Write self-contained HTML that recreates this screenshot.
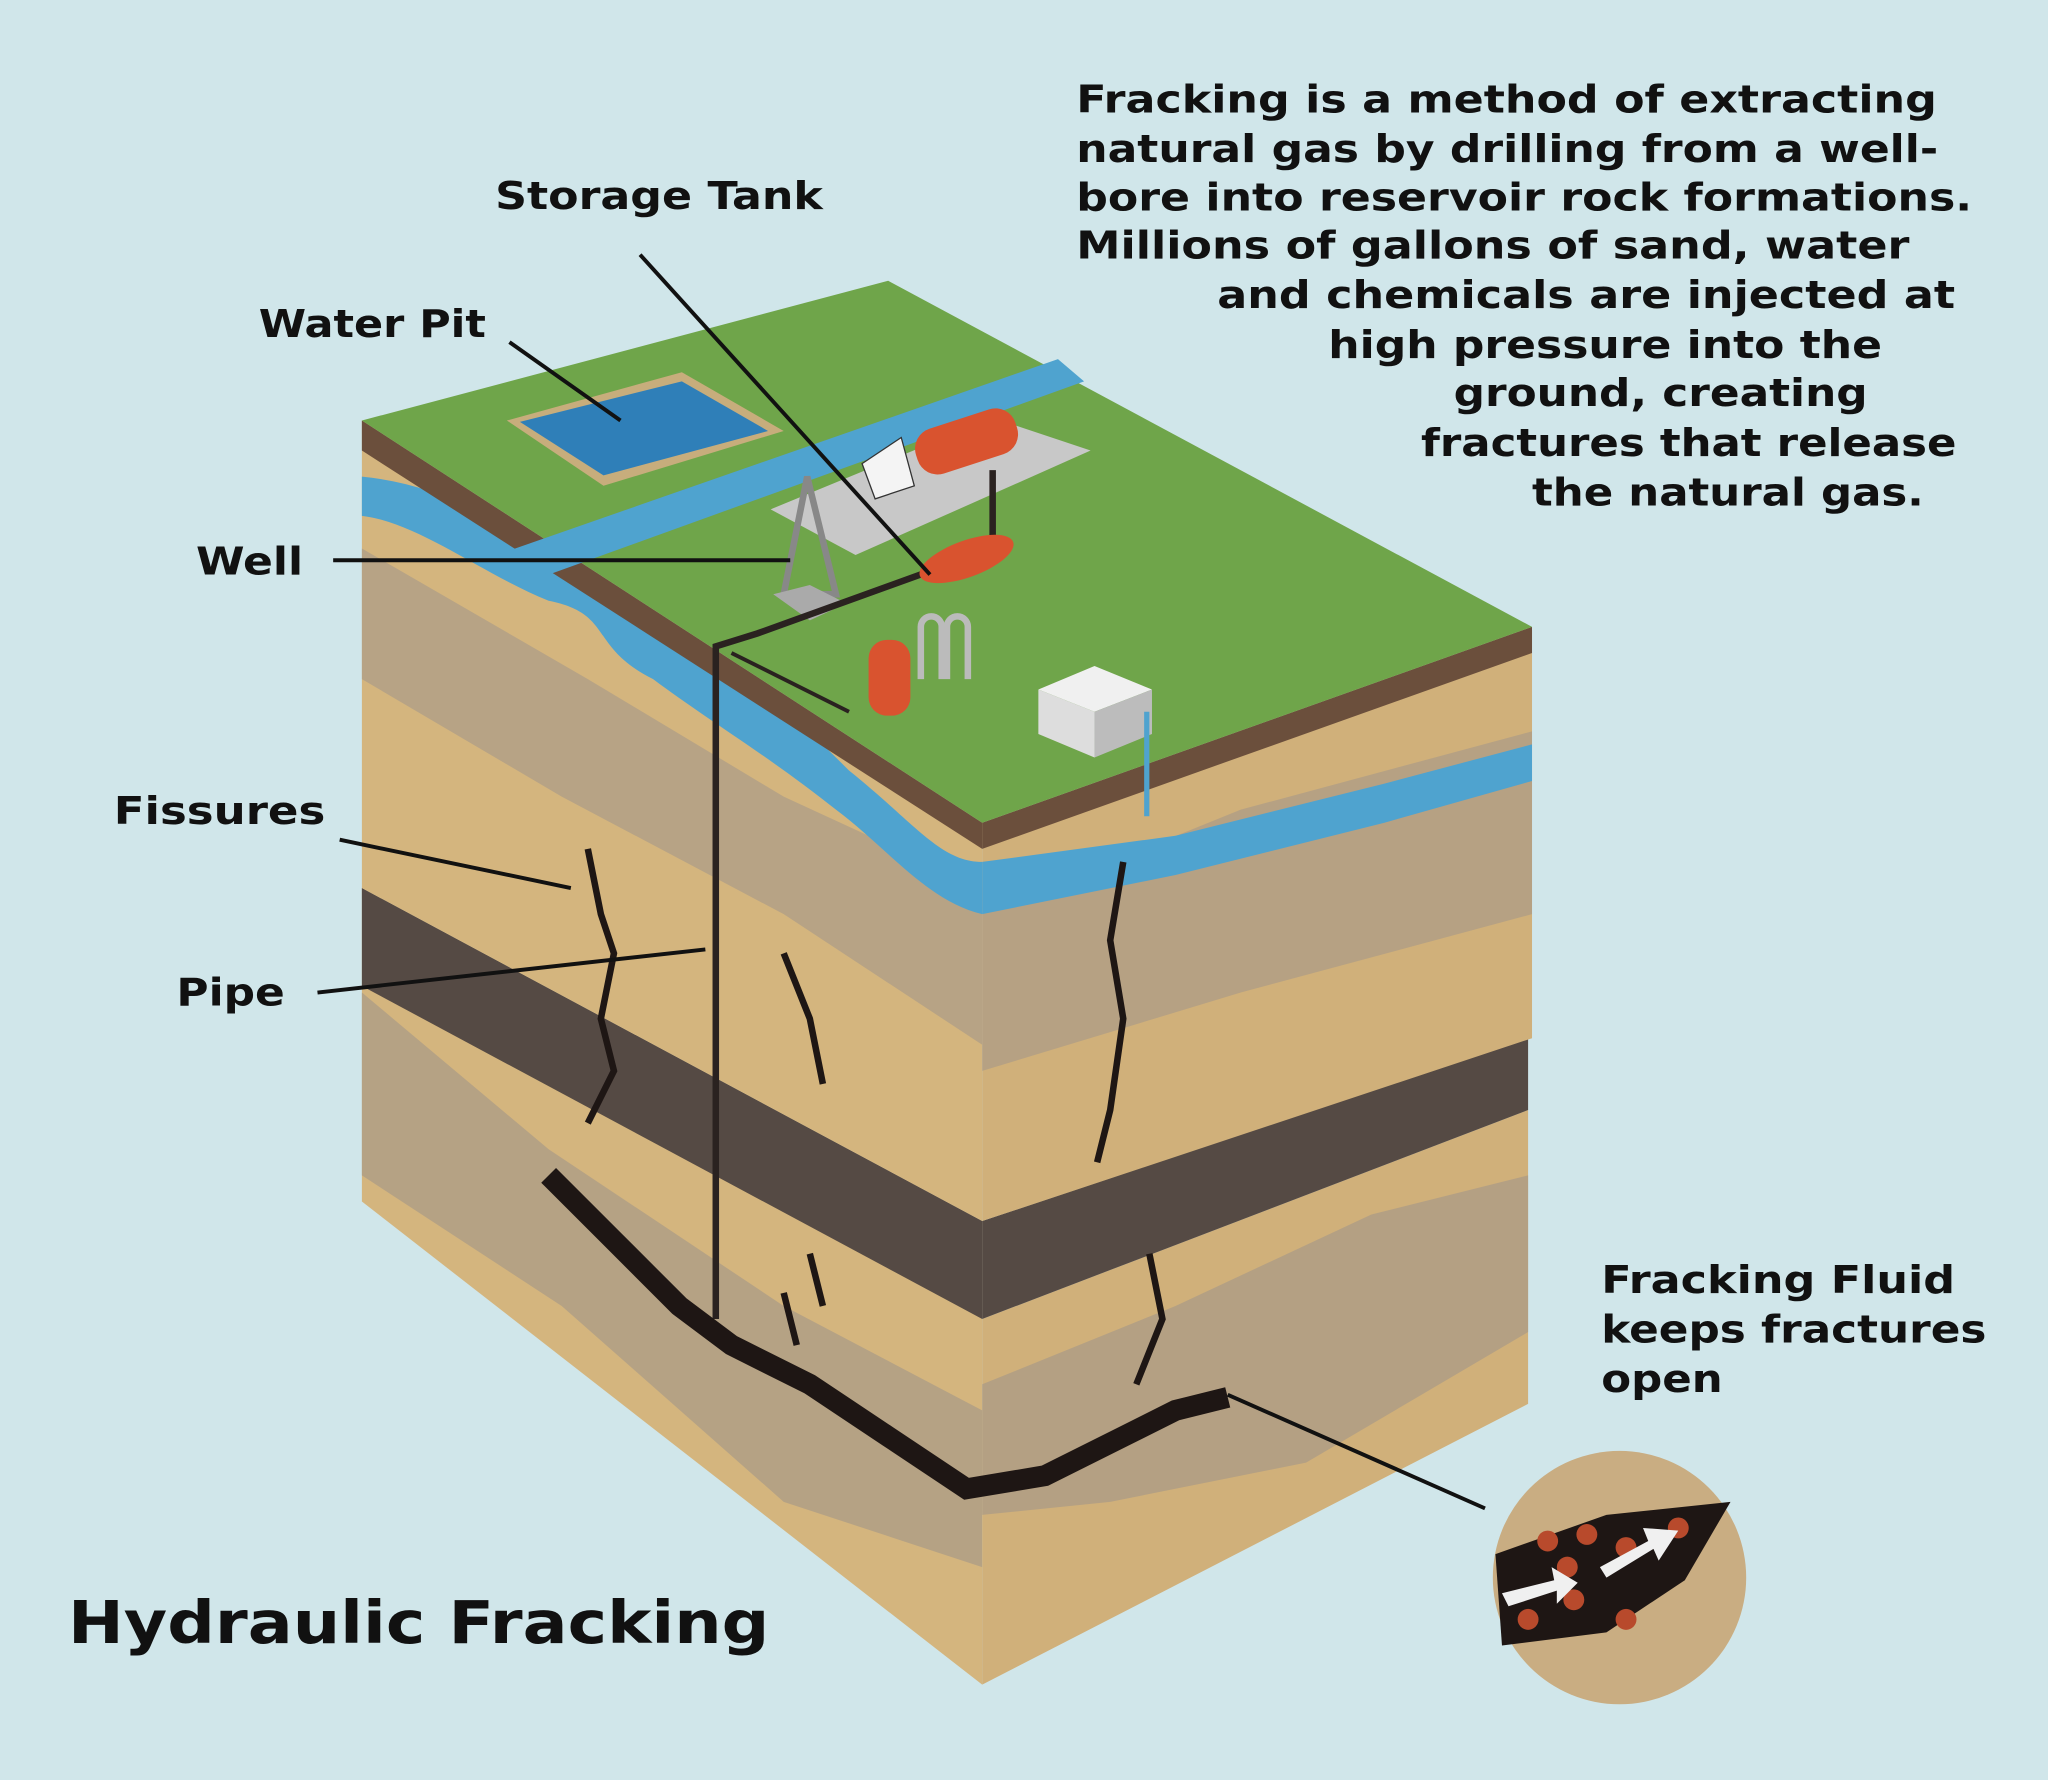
<!DOCTYPE html>
<html><head><meta charset="utf-8"><style>
html,body{margin:0;padding:0;background:#d0e6ea;}
svg{display:block;}
text{font-family:"DejaVu Sans","Liberation Sans",sans-serif;font-weight:bold;fill:#111;}
</style></head><body>
<svg width="2048" height="1780" viewBox="0 0 1568 1363" xmlns="http://www.w3.org/2000/svg">
<rect width="1568" height="1363" fill="#d0e6ea"/>
<!-- lower block -->
<polygon points="277,680 752,935 752,1290 277,920" fill="#d4b57e"/>
<polygon points="277,760 420,880 600,1000 752,1080 752,1200 600,1150 430,1000 277,900" fill="#a89a88" opacity="0.7"/>
<polygon points="752,1010 1170,850 1170,1075 752,1290" fill="#d0b07a"/>
<polygon points="752,1060 900,1000 1050,930 1170,900 1170,1020 1000,1120 850,1150 752,1160" fill="#a89a88" opacity="0.7"/>
<polygon points="277,680 752,935 752,1010 277,755" fill="#554a44"/>
<polygon points="752,935 1170,795 1170,850 752,1010" fill="#554a44"/>
<!-- upper block -->
<polygon points="277,322 752,630 752,935 277,680" fill="#d4b57e"/>
<polygon points="277,420 450,520 600,610 752,680 752,800 600,700 430,610 277,520" fill="#a89a88" opacity="0.65"/>
<polygon points="752,630 1173,480 1173,795 752,935" fill="#d0b07a"/>
<polygon points="752,700 950,620 1173,560 1173,700 950,760 752,820" fill="#a89a88" opacity="0.65"/>
<!-- river on faces -->
<path d="M277,365 C330,370 380,395 420,420 C470,440 440,460 500,480 C560,500 600,540 650,590 C700,630 720,660 752,660 L752,700 C710,690 680,650 640,620 C590,580 540,550 500,520 C450,495 470,470 420,460 C370,440 320,400 277,395 Z" fill="#4fa3cf"/>
<polygon points="752,660 900,640 1060,600 1173,570 1173,598 1060,630 900,670 752,700" fill="#4fa3cf"/>
<!-- dirt edge -->
<polygon points="277,322 752,630 752,650 277,345" fill="#6b4f3c"/>
<polygon points="752,630 1173,480 1173,500 752,650" fill="#6b4f3c"/>
<!-- top green -->
<polygon points="277,322 680,215 1173,480 752,630" fill="#6fa54a"/>
<polygon points="380,425 810,275 830,292 420,440" fill="#4fa3cf"/>
<polygon points="388,322 522,285 600,330 462,372" fill="#c7ad7c"/>
<polygon points="398,323 522,292 588,330 462,364" fill="#2f7fb8"/>
<polygon points="590,390 760,320 835,345 655,425" fill="#c8c8c8"/>
<rect x="700" y="320" width="80" height="36" rx="16" fill="#d9532f" transform="rotate(-18 740 338)"/>
<polygon points="660,355 690,335 700,372 670,382" fill="#f4f4f4" stroke="#333"/>
<polygon points="618,365 600,455 640,455" fill="none" stroke="#888" stroke-width="5"/>
<polygon points="592,455 620,475 648,462 620,448" fill="#aaa"/>
<polyline points="548,1010 548,495 580,485 760,420 760,360" fill="none" stroke="#2a2220" stroke-width="5"/>
<polyline points="560,500 650,545" fill="none" stroke="#2a2220" stroke-width="3"/>
<ellipse cx="740" cy="428" rx="38" ry="14" fill="#d9532f" transform="rotate(-20 740 428)"/>
<rect x="665" y="490" width="32" height="58" rx="14" fill="#d9532f"/>
<path d="M705 520 v-40 a8 8 0 0 1 16 0 v40 M725 520 v-40 a8 8 0 0 1 16 0 v40" stroke="#bbb" stroke-width="5" fill="none"/>
<polygon points="795,528 838,510 882,528 838,545" fill="#f0f0f0"/>
<polygon points="795,528 838,545 838,580 795,562" fill="#ddd"/>
<polygon points="838,545 882,528 882,562 838,580" fill="#bcbcbc"/>
<path d="M878 545 v80" stroke="#4fa3cf" stroke-width="4"/>
<!-- fractures -->
<path d="M420,900 470,950 520,1000 560,1030 620,1060 680,1100 740,1140 800,1130 860,1100 900,1080 940,1070" fill="none" stroke="#1e1614" stroke-width="16"/>
<path d="M450,650 460,700 470,730 460,780 470,820 450,860 M600,730 620,780 630,830 M860,660 850,720 860,780 850,850 840,890 M880,960 890,1010 870,1060 M600,990 610,1030 M620,960 630,1000" fill="none" stroke="#1e1614" stroke-width="5"/>
<!-- inset -->
<circle cx="1240" cy="1208" r="97" fill="#c9ad82"/>
<polygon points="1145,1190 1230,1160 1325,1150 1290,1210 1230,1250 1150,1260" fill="#1e1614"/>
<g fill="#b84a2c"><circle cx="1185" cy="1180" r="8"/><circle cx="1215" cy="1175" r="8"/><circle cx="1245" cy="1185" r="8"/><circle cx="1200" cy="1200" r="8"/><circle cx="1170" cy="1240" r="8"/><circle cx="1205" cy="1225" r="8"/><circle cx="1245" cy="1240" r="8"/><circle cx="1285" cy="1170" r="8"/></g>
<polygon points="1150,1220 1190,1210 1188,1200 1208,1212 1192,1228 1192,1218 1155,1230" fill="#f0f0f0"/>
<polygon points="1225,1200 1262,1180 1258,1170 1285,1172 1270,1195 1266,1186 1230,1208" fill="#f0f0f0"/>
<g stroke="#111" stroke-width="3">
<line x1="490" y1="195" x2="712" y2="440"/>
<line x1="390" y1="262" x2="475" y2="322"/>
<line x1="255" y1="429" x2="605" y2="429"/>
<line x1="260" y1="643" x2="437" y2="680"/>
<line x1="243" y1="760" x2="540" y2="727"/>
<line x1="940" y1="1068" x2="1137" y2="1155"/>
</g>
<g font-size="29" lengthAdjust="spacingAndGlyphs">
<text x="379" y="160" textLength="251" lengthAdjust="spacingAndGlyphs">Storage Tank</text>
<text x="198" y="258" textLength="174" lengthAdjust="spacingAndGlyphs">Water Pit</text>
<text x="150" y="440" textLength="82" lengthAdjust="spacingAndGlyphs">Well</text>
<text x="87" y="631" textLength="162" lengthAdjust="spacingAndGlyphs">Fissures</text>
<text x="135" y="770" textLength="83" lengthAdjust="spacingAndGlyphs">Pipe</text>
<text x="1226" y="990" textLength="271" lengthAdjust="spacingAndGlyphs">Fracking Fluid</text>
<text x="1226" y="1028" textLength="295" lengthAdjust="spacingAndGlyphs">keeps fractures</text>
<text x="1226" y="1066" textLength="93" lengthAdjust="spacingAndGlyphs">open</text>
<text x="824" y="86" textLength="659" lengthAdjust="spacingAndGlyphs">Fracking is a method of extracting</text>
<text x="824" y="124" textLength="660" lengthAdjust="spacingAndGlyphs">natural gas by drilling from a well-</text>
<text x="824" y="161" textLength="686" lengthAdjust="spacingAndGlyphs">bore into reservoir rock formations.</text>
<text x="824" y="198" textLength="638" lengthAdjust="spacingAndGlyphs">Millions of gallons of sand, water</text>
<text x="932" y="236" textLength="565" lengthAdjust="spacingAndGlyphs">and chemicals are injected at</text>
<text x="1017" y="274" textLength="424" lengthAdjust="spacingAndGlyphs">high pressure into the</text>
<text x="1113" y="311" textLength="317" lengthAdjust="spacingAndGlyphs">ground, creating</text>
<text x="1088" y="349" textLength="410" lengthAdjust="spacingAndGlyphs">fractures that release</text>
<text x="1173" y="387" textLength="300" lengthAdjust="spacingAndGlyphs">the natural gas.</text>
</g>
<text x="52" y="1258" font-size="45" textLength="537" lengthAdjust="spacingAndGlyphs">Hydraulic Fracking</text>
</svg>
</body></html>
